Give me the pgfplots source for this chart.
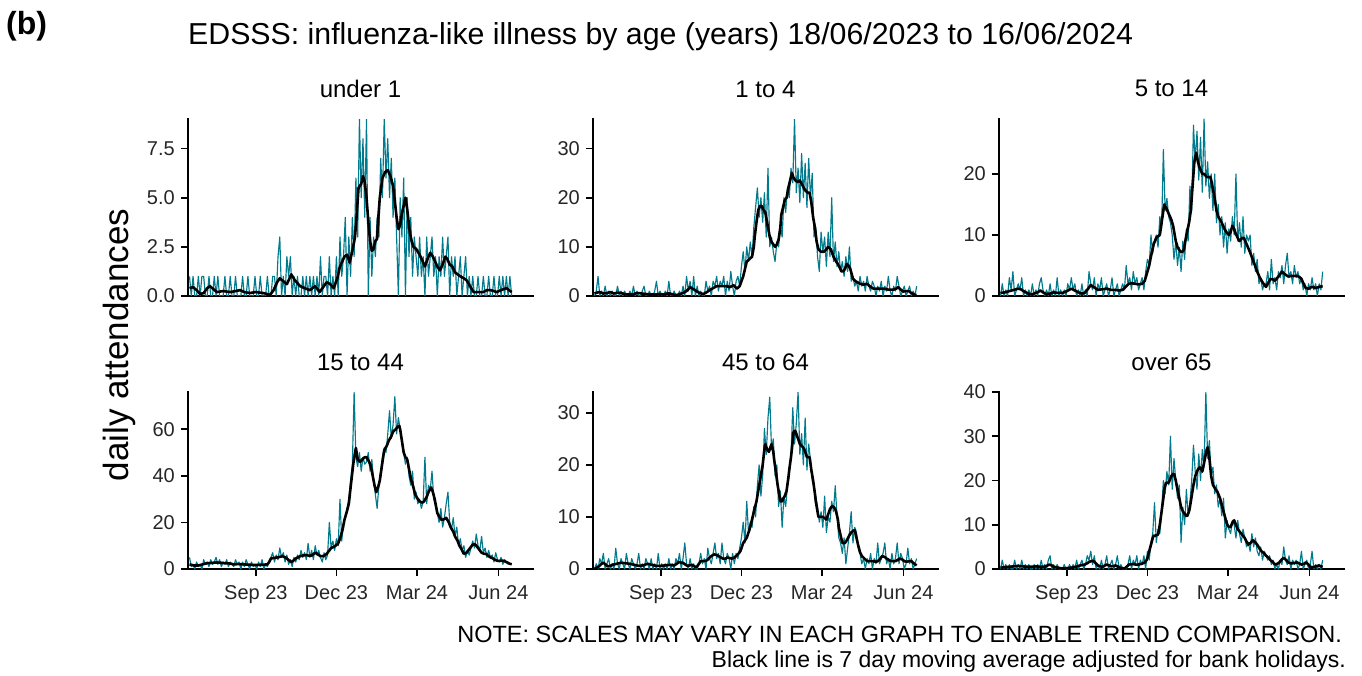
\documentclass[border=0pt]{standalone}
\usepackage{fontspec}
\setmainfont{Liberation Sans}
\usepackage{pgfplots}
\usepackage{pgfplotstable}
\pgfplotsset{compat=1.18}
\definecolor{tealc}{RGB}{0,122,140}

\pgfplotstableread[row sep=\\,header=false]{
1\\0\\1\\0\\0\\1\\0\\1\\1\\0\\
0\\1\\0\\0\\1\\0\\1\\0\\0\\0\\
1\\0\\0\\1\\0\\0\\1\\0\\0\\0\\
1\\0\\0\\1\\0\\0\\0\\1\\0\\0\\
1\\0\\0\\0\\1\\0\\
0\\1\\1\\0\\2\\3\\0\\1\\0\\2\\
1\\2\\0\\1\\0\\1\\0\\0\\1\\0\\
1\\0\\1\\0\\1\\0\\1\\0\\2\\0\\
1\\1\\0\\2\\0\\1\\0\\
2\\0\\3\\1\\2\\4\\0\\3\\1\\4\\
2\\6\\3\\9\\5\\8\\4\\9\\0\\4\\
1\\3\\2\\4\\3\\7\\5\\9\\6\\8\\
5\\7\\4\\6\\3\\0\\5\\3\\6\\0\\
5\\2\\4\\1\\3\\2\\1\\3\\
1\\2\\0\\3\\1\\2\\3\\1\\2\\0\\
2\\1\\3\\1\\2\\3\\0\\2\\1\\2\\
0\\1\\2\\0\\1\\2\\0\\1\\0\\1\\
0\\0\\1\\0\\0\\1\\0\\0\\1\\0\\
0\\1\\0\\0\\1\\0\\1\\0\\1\\0\\
1\\0\\
}\tA

\pgfplotstableread[row sep=\\,header=false]{
0\\1\\4\\0\\1\\0\\2\\0\\1\\0\\
1\\0\\0\\2\\0\\1\\0\\1\\0\\0\\
1\\0\\2\\0\\1\\0\\0\\1\\2\\0\\
0\\1\\0\\0\\1\\3\\0\\1\\0\\0\\
1\\0\\3\\0\\0\\1\\0\\0\\1\\0\\
2\\0\\4\\1\\3\\0\\4\\0\\2\\0\\
1\\0\\0\\3\\1\\2\\0\\3\\2\\4\\
1\\3\\2\\4\\0\\3\\1\\5\\2\\0\\
3\\4\\2\\6\\9\\5\\10\\7\\11\\8\\
14\\18\\22\\16\\20\\15\\21\\12\\26\\10\\
12\\9\\7\\11\\10\\14\\12\\20\\17\\22\\
20\\26\\23\\36\\21\\26\\19\\29\\20\\27\\
18\\28\\20\\25\\12\\14\\8\\5\\13\\9\\
12\\6\\13\\8\\20\\7\\11\\6\\9\\5\\
7\\4\\8\\5\\10\\3\\4\\2\\3\\1\\
4\\2\\3\\1\\4\\2\\1\\3\\2\\0\\
2\\1\\3\\0\\2\\1\\4\\1\\0\\2\\
1\\4\\2\\0\\1\\2\\0\\1\\2\\0\\
1\\0\\2\\
}\tB

\pgfplotstableread[row sep=\\,header=false]{
0\\2\\0\\1\\0\\3\\1\\4\\0\\1\\
2\\1\\3\\0\\1\\0\\1\\0\\2\\0\\
1\\0\\2\\3\\1\\0\\1\\0\\2\\0\\
1\\0\\3\\0\\1\\0\\1\\0\\2\\1\\
3\\1\\2\\0\\1\\0\\2\\0\\1\\0\\
4\\2\\1\\3\\0\\2\\1\\3\\0\\1\\
2\\0\\1\\3\\0\\1\\2\\0\\1\\2\\
1\\5\\2\\3\\1\\4\\2\\3\\1\\2\\
3\\1\\4\\6\\5\\10\\7\\9\\10\\8\\
13\\11\\24\\14\\16\\13\\12\\10\\6\\9\\
5\\8\\4\\9\\6\\11\\9\\18\\14\\28\\
22\\27\\19\\26\\17\\29\\18\\22\\16\\20\\
14\\20\\12\\15\\10\\13\\8\\12\\7\\11\\
9\\13\\10\\20\\9\\12\\8\\13\\7\\10\\
9\\10\\5\\7\\4\\6\\2\\3\\1\\2\\
2\\4\\1\\6\\2\\3\\1\\4\\3\\5\\
2\\5\\7\\3\\4\\2\\5\\3\\4\\2\\
3\\1\\2\\0\\2\\1\\3\\1\\2\\0\\
2\\1\\4\\
}\tC

\pgfplotstableread[row sep=\\,header=false]{
5\\1\\2\\0\\3\\1\\2\\0\\4\\2\\
3\\1\\4\\2\\3\\5\\2\\4\\1\\3\\
2\\4\\1\\3\\2\\1\\4\\2\\3\\0\\
3\\1\\4\\2\\0\\3\\1\\2\\0\\3\\
1\\4\\0\\2\\1\\3\\5\\7\\3\\6\\
4\\9\\5\\7\\3\\6\\2\\4\\1\\5\\
3\\6\\4\\8\\5\\7\\4\\11\\5\\8\\
4\\10\\6\\8\\5\\3\\7\\4\\6\\20\\
9\\12\\8\\13\\10\\30\\12\\20\\22\\26\\
30\\38\\45\\76\\48\\44\\50\\42\\48\\45\\
46\\50\\42\\47\\38\\32\\26\\36\\42\\48\\
52\\50\\58\\68\\56\\62\\74\\58\\65\\60\\
55\\50\\45\\48\\40\\36\\42\\30\\33\\28\\
30\\26\\29\\48\\28\\36\\34\\42\\30\\27\\
24\\20\\26\\18\\22\\28\\33\\20\\17\\22\\
14\\18\\10\\13\\8\\10\\5\\8\\6\\9\\
12\\9\\15\\10\\8\\14\\7\\9\\5\\8\\
5\\6\\3\\7\\4\\3\\5\\2\\4\\3\\
3\\2\\2\\
}\tD

\pgfplotstableread[row sep=\\,header=false]{
0\\1\\0\\2\\1\\3\\0\\1\\2\\0\\
1\\0\\4\\1\\0\\2\\1\\0\\3\\1\\
0\\2\\1\\0\\1\\3\\0\\1\\0\\2\\
1\\0\\2\\0\\1\\0\\3\\0\\1\\0\\
1\\0\\2\\0\\1\\0\\2\\1\\3\\0\\
2\\5\\1\\0\\2\\0\\1\\0\\0\\1\\
3\\1\\2\\0\\4\\2\\1\\3\\5\\2\\
3\\1\\5\\2\\1\\3\\2\\0\\3\\1\\
3\\2\\4\\6\\9\\5\\13\\7\\9\\8\\
12\\10\\16\\20\\14\\18\\27\\22\\29\\33\\
23\\25\\18\\20\\12\\15\\8\\14\\12\\16\\
18\\22\\31\\24\\28\\34\\22\\26\\20\\29\\
19\\24\\21\\17\\16\\14\\12\\9\\11\\8\\
14\\7\\10\\9\\13\\11\\16\\10\\6\\5\\
3\\6\\1\\4\\7\\11\\5\\8\\7\\4\\
3\\1\\2\\0\\2\\1\\3\\0\\2\\1\\
5\\1\\2\\3\\5\\1\\2\\0\\3\\1\\
2\\5\\1\\3\\2\\0\\1\\4\\1\\2\\
0\\1\\2\\
}\tE

\pgfplotstableread[row sep=\\,header=false]{
0\\2\\0\\1\\0\\1\\0\\0\\2\\0\\
1\\0\\2\\0\\1\\0\\1\\0\\0\\1\\
0\\1\\0\\2\\0\\1\\0\\2\\3\\0\\
1\\0\\1\\0\\0\\0\\1\\0\\0\\1\\
0\\1\\0\\2\\0\\1\\2\\0\\1\\3\\
2\\4\\1\\3\\0\\1\\0\\2\\0\\1\\
3\\0\\1\\2\\0\\1\\3\\0\\1\\0\\
0\\0\\1\\3\\0\\2\\1\\3\\0\\2\\
1\\3\\0\\4\\2\\6\\8\\15\\6\\9\\
8\\13\\20\\17\\22\\19\\30\\18\\25\\20\\
16\\19\\6\\14\\10\\18\\12\\15\\20\\28\\
22\\18\\26\\20\\27\\23\\40\\25\\29\\21\\
23\\17\\19\\14\\16\\12\\16\\7\\11\\9\\
8\\11\\10\\7\\11\\8\\6\\9\\7\\5\\
6\\4\\8\\5\\7\\4\\3\\5\\2\\4\\
3\\2\\3\\1\\2\\0\\1\\0\\2\\1\\
5\\2\\1\\3\\0\\2\\1\\2\\0\\1\\
4\\0\\1\\2\\0\\1\\4\\0\\1\\0\\
1\\0\\2\\
}\tF

\pgfplotsset{
  panel/.style={
    scale only axis, width=345pt, height=177pt,
    xmin=-1.7, xmax=388.1, ymin=0,
    axis lines=left, axis line style={-, line width=1.7pt, black, line cap=rect},
    tick align=outside, major tick length=7pt,
    tick style={line width=1.7pt, black},
    xtick={75,166,257,349},
    xticklabels={Sep 23,Dec 23,Mar 24,Jun 24},
    ticklabel style={font=\fontsize{20}{24}\selectfont, text=black!85, inner sep=0pt},
    yticklabel shift=6pt, xticklabel shift=9pt,
    title style={at={(0.5,1)}, anchor=base, yshift=16pt, font=\fontsize{24}{28}\selectfont, inner sep=0pt},
  },
  toprow/.style={xtick=\empty},
  tl/.style={tealc, line width=1.15pt, line join=round},
  ma/.style={black, line width=2.6pt, line join=round},
}

\begin{document}
\begin{tikzpicture}
\useasboundingbox (0,0) rectangle (1362pt,675pt);

\node[anchor=base west, inner sep=0pt, font=\bfseries\fontsize{32}{38}\selectfont] at (6pt,640pt) {(b)};
\node[anchor=base west, inner sep=0pt, font=\fontsize{30.3}{36}\selectfont] at (188pt,630pt) {EDSSS: influenza-like illness by age (years) 18/06/2023 to 16/06/2024};
\node[anchor=base, rotate=90, inner sep=0pt, font=\fontsize{35}{40}\selectfont] at (128pt,330pt) {daily attendances};
\node[anchor=base east, inner sep=0pt, font=\fontsize{23.5}{28}\selectfont] at (1342pt,33pt) {NOTE: SCALES MAY VARY IN EACH GRAPH TO ENABLE TREND COMPARISON.};
\node[anchor=base east, inner sep=0pt, font=\fontsize{23}{28}\selectfont] at (1346pt,8pt) {Black line is 7 day moving average adjusted for bank holidays.};

% under 1
\begin{axis}[panel, toprow, at={(188pt,379pt)}, anchor=south west, ymax=9,
  ytick={0,2.5,5,7.5}, yticklabels={0.0,2.5,5.0,7.5}, title={under 1}]
\addplot[tl] table[x expr=\coordindex*2, y index=0] {\tA};
\addplot[ma] coordinates {(0,0.4)(4,0.45)(8,0.3)(12,0.1)(16,0.15)(20,0.4)(23,0.5)(27,0.35)(31,0.2)(38,0.25)(46,0.2)(52,0.25)(57,0.3)(62,0.2)(68,0.15)(75,0.2)(83,0.15)(88,0.1)(91,0.05)(95,0.3)(99,0.7)(102,0.9)(106,0.75)(110,0.6)(113,0.9)(115,1.1)(119,0.8)(125,0.5)(130,0.4)(136,0.3)(142,0.5)(147,0.2)(151,0.45)(155,0.7)(159,0.6)(163,0.4)(167,0.9)(170,1.5)(175,2.0)(178,2.1)(181,1.7)(184,2.3)(187,3.0)(189,4.2)(191,5.5)(194,5.7)(196,6.1)(198,5.8)(200,5.0)(202,3.8)(204,2.8)(206,2.3)(208,2.4)(210,2.8)(212,2.9)(213,3.8)(215,5.0)(218,6.0)(221,6.3)(224,6.4)(227,6.1)(230,5.6)(232,4.8)(234,4.0)(236,3.4)(238,3.6)(240,4.2)(242,4.6)(244,5.0)(246,4.4)(249,3.2)(251,2.8)(253,2.5)(256,2.4)(260,2.1)(263,1.8)(266,1.5)(269,1.9)(272,2.2)(275,2.0)(277,1.8)(280,1.5)(283,1.3)(286,1.6)(289,2.0)(291,1.9)(294,1.6)(297,1.5)(300,1.2)(303,1.1)(306,1.0)(310,0.9)(313,0.8)(317,0.5)(321,0.2)(326,0.2)(332,0.2)(336,0.3)(340,0.3)(344,0.25)(347,0.2)(352,0.3)(358,0.4)(361,0.3)(364,0.2)};
\end{axis}

% 1 to 4
\begin{axis}[panel, toprow, at={(593pt,379pt)}, anchor=south west, ymax=36,
  ytick={0,10,20,30}, yticklabels={0,10,20,30}, title={1 to 4}]
\addplot[tl] table[x expr=\coordindex*2, y index=0] {\tB};
\addplot[ma] coordinates {(0,0.5)(3,0.7)(6,0.8)(10,0.5)(14,0.6)(18,0.8)(22,0.5)(26,0.7)(30,0.6)(34,0.4)(38,0.3)(42,0.3)(46,0.5)(50,0.6)(54,0.5)(58,0.4)(62,0.3)(66,0.3)(70,0.3)(74,0.4)(78,0.3)(82,0.5)(85,0.5)(89,0.3)(93,0.2)(97,0.4)(101,0.7)(104,1.0)(108,1.8)(111,1.5)(115,1.0)(119,0.6)(123,0.4)(127,0.8)(130,1.2)(134,1.6)(138,2.0)(143,2.0)(149,2.0)(153,1.8)(157,2.2)(161,1.5)(164,2.0)(166,3.0)(168,4.0)(170,5.5)(172,7.0)(175,7.5)(178,8.0)(180,10)(181,12)(183,15)(185,17.5)(187,18.3)(189,18.3)(191,17.5)(193,17)(195,15)(196,14)(198,12)(200,11)(202,10.5)(204,10)(206,10.5)(208,11.5)(210,14)(211,16.5)(213,18)(215,19.5)(217,20)(219,22)(221,23.5)(223,25)(225,24)(227,23.5)(230,23.2)(232,23.5)(235,22.5)(238,21.5)(241,21)(243,21)(245,19)(247,16)(249,14)(251,11)(253,9.5)(256,9)(259,9.0)(262,9.5)(264,10)(267,9.5)(270,8)(273,7)(275,6.5)(277,5.8)(279,5)(281,5)(283,5.5)(285,6.5)(287,6.2)(289,5.5)(292,3.5)(295,3.0)(300,2.5)(304,2.3)(308,2.5)(311,2.0)(315,1.5)(320,1.5)(326,1.5)(332,1.3)(338,1.3)(341,1.5)(343,1.8)(346,1.3)(349,0.9)(352,1.0)(355,1.0)(358,0.6)(362,0.2)(364,0.2)};
\end{axis}

% 5 to 14
\begin{axis}[panel, toprow, at={(999pt,379pt)}, anchor=south west, ymax=29,
  ytick={0,10,20}, yticklabels={0,10,20}, title={5 to 14}]
\addplot[tl] table[x expr=\coordindex*2, y index=0] {\tC};
\addplot[ma] coordinates {(0,0.5)(5,0.6)(10,0.8)(15,1.0)(20,1.2)(23,1.1)(26,0.8)(30,0.5)(33,0.3)(36,0.3)(40,0.5)(43,0.7)(45,0.9)(48,0.6)(52,0.3)(56,0.4)(60,0.6)(65,0.5)(70,0.5)(75,0.8)(80,1.2)(84,0.9)(88,0.6)(92,0.4)(95,0.5)(99,1.2)(102,1.8)(106,1.4)(110,1.0)(115,1.1)(120,1.2)(125,1.0)(130,1.0)(134,0.9)(138,1.0)(142,1.6)(145,2.0)(148,2.1)(152,2.0)(156,1.9)(160,2.0)(163,2.5)(165,3.5)(168,5.0)(170,6.5)(173,8.5)(176,9.5)(178,9.8)(180,10)(182,12)(184,14)(185,15)(187,14.5)(190,13.5)(193,12.5)(195,11.5)(198,9)(200,8)(203,7.3)(205,7.2)(207,7.5)(210,10)(213,12)(215,14)(217,18)(219,22)(221,23.5)(223,22)(225,21)(228,20)(230,20)(233,19.5)(235,19.5)(237,19.5)(238,19)(240,17.5)(242,16)(244,14)(246,13)(248,12.5)(250,12)(253,11)(255,10.5)(258,10)(260,10.5)(262,11.5)(264,11)(265,10.5)(268,9.5)(270,9)(273,9.5)(275,9.5)(278,8.5)(281,7.5)(285,6)(288,4.8)(290,4)(293,3.0)(295,2.5)(298,1.8)(300,1.5)(303,2.3)(305,2.8)(308,2.7)(310,2.5)(314,3.2)(318,4.0)(321,3.6)(325,3.2)(330,3.3)(335,3.3)(338,3.1)(340,2.8)(343,1.8)(345,1.3)(348,1.2)(352,1.5)(356,1.3)(360,1.5)(364,1.6)};
\end{axis}

% 15 to 44
\begin{axis}[panel, at={(188pt,106pt)}, anchor=south west, ymax=76,
  ytick={0,20,40,60}, yticklabels={0,20,40,60}, title={15 to 44}]
\addplot[tl] table[x expr=\coordindex*2, y index=0] {\tD};
\addplot[ma] coordinates {(0,2.0)(5,1.5)(10,1.5)(15,2)(20,2.5)(25,2.6)(30,2.8)(35,2.7)(40,2.5)(45,2.4)(50,2.0)(55,2.1)(60,2.0)(65,1.9)(70,1.8)(75,1.7)(80,1.8)(85,1.9)(88,2.0)(90,3.0)(92,4.5)(96,4.8)(100,5.0)(105,5.5)(108,5.0)(110,4.5)(113,3.5)(115,3.0)(118,3.8)(120,4.5)(125,5.5)(128,5.8)(132,6.0)(135,5.7)(138,5.8)(142,7.0)(145,6.3)(148,5.5)(152,5.6)(155,6.5)(158,8)(160,9)(163,9.5)(165,10)(168,11)(170,13)(173,17)(175,21)(178,25)(180,28)(182,35)(185,45)(187,50)(188,52)(190,47)(193,46)(195,47)(198,48)(200,48)(203,46)(205,44)(207,40)(209,36)(211,33)(213,35)(215,38)(218,46)(220,51)(223,53)(225,55)(228,57)(230,59)(233,60)(235,61)(237,61.5)(238,60)(240,55)(242,50)(244,48)(246,47)(248,43)(250,39)(253,35)(255,32)(258,30)(260,29)(263,28.5)(265,29)(268,31)(270,33)(273,35)(275,33)(277,30)(279,26)(280,24)(283,22)(285,21)(288,21.5)(290,22)(293,20)(295,18)(298,16)(300,14)(303,12)(305,10)(308,8)(310,6.5)(313,7)(315,8)(318,9.5)(320,10.5)(323,10.5)(325,9.5)(328,8)(330,7)(333,6.5)(335,6.5)(338,5.5)(340,5)(343,4.5)(345,4)(348,3.5)(350,3.5)(353,3.6)(355,3.5)(358,3.0)(360,2.5)(364,2)};
\end{axis}

% 45 to 64
\begin{axis}[panel, at={(593pt,106pt)}, anchor=south west, ymax=34,
  ytick={0,10,20,30}, yticklabels={0,10,20,30}, title={45 to 64}]
\addplot[tl] table[x expr=\coordindex*2, y index=0] {\tE};
\addplot[ma] coordinates {(0,0)(3,0.3)(5,0.5)(8,1.0)(10,1.2)(13,0.8)(15,0.5)(18,0.6)(20,0.8)(25,1.0)(30,1.2)(35,1.1)(40,1.0)(45,0.8)(50,0.6)(55,0.7)(60,1.0)(65,0.8)(70,0.6)(75,0.6)(80,0.7)(85,0.8)(90,0.7)(93,1.0)(95,1.3)(100,1.2)(103,0.8)(105,0.6)(110,0.8)(113,0.5)(115,0.3)(118,1.0)(120,1.5)(125,1.5)(128,1.8)(130,2.2)(133,2.6)(135,2.8)(138,2.7)(140,2.5)(143,2.2)(145,2.0)(148,2.0)(150,2.2)(153,2.1)(155,2.0)(158,2.2)(160,2.5)(163,3.0)(165,3.5)(168,5)(170,5.5)(172,6.0)(175,7.5)(178,9.5)(180,11)(183,13)(185,15)(188,18)(190,20)(192,23)(193,24)(195,23)(197,22.5)(199,23.5)(200,24)(202,22.5)(203,21)(205,18.5)(207,16)(209,14)(210,13)(212,13)(213,13.5)(215,14)(217,15)(219,17.5)(220,19)(222,21.5)(223,23)(225,26.5)(227,26.5)(228,26)(230,25)(232,24)(235,23.5)(237,23)(239,22)(240,21.5)(243,21.5)(245,19)(247,17)(249,14.5)(250,13)(252,11)(253,10)(256,10)(258,10)(260,9.8)(262,9.5)(264,10.5)(266,11.5)(268,12)(270,12)(272,11.5)(273,11)(275,9.5)(276,8)(278,6.5)(280,5)(283,5)(285,5.5)(288,6.5)(290,7)(292,7.3)(294,7.5)(296,6)(298,4.5)(300,3.2)(302,2.5)(305,2.0)(308,1.5)(312,1.5)(315,1.5)(318,1.4)(320,1.5)(323,2.0)(325,2.5)(328,2.3)(330,2)(333,1.7)(335,1.5)(338,1.5)(340,1.5)(343,1.8)(345,2.0)(348,1.8)(350,1.5)(353,1.4)(355,1.5)(358,1.5)(360,1.2)(362,0.9)(364,0.7)};
\end{axis}

% over 65
\begin{axis}[panel, at={(999pt,106pt)}, anchor=south west, ymax=40,
  ytick={0,10,20,30,40}, yticklabels={0,10,20,30,40}, title={over 65}]
\addplot[tl] table[x expr=\coordindex*2, y index=0] {\tF};
\addplot[ma] coordinates {(0,0.3)(5,0.4)(10,0.5)(15,0.6)(20,0.7)(25,0.6)(30,0.5)(35,0.5)(40,0.6)(45,0.5)(50,0.5)(53,0.8)(55,1.0)(58,0.8)(60,0.5)(65,0.3)(70,0.1)(75,0.2)(80,0.3)(85,0.5)(90,0.8)(95,1.0)(98,1.3)(100,1.6)(103,1.8)(105,1.8)(108,1.2)(110,0.8)(113,0.6)(115,0.5)(118,0.8)(120,1.0)(123,0.8)(125,0.6)(128,0.7)(130,0.8)(133,0.5)(135,0.3)(138,0.2)(140,0.1)(143,0.6)(145,1.0)(148,1.1)(150,1.1)(153,1.0)(155,1.0)(158,1.1)(160,1.2)(163,1.5)(165,2.0)(166,2.5)(168,4.0)(170,5.5)(172,7)(173,7.5)(176,7.6)(178,7.8)(180,10)(182,13)(184,16)(185,18)(187,19.5)(188,19.5)(190,19.5)(192,20.5)(193,21)(195,21.5)(196,21.5)(198,20)(200,18)(202,16)(204,14)(206,13)(208,12.5)(210,12)(211,12)(213,13)(214,14)(216,16.5)(218,19)(220,21)(221,21.5)(223,22.5)(225,23)(227,22.5)(228,22)(230,24)(231,25)(233,27)(234,27.5)(235,26.5)(236,25)(238,21)(240,19)(243,18)(245,17.5)(248,16)(250,14.5)(252,13)(254,11.5)(256,10)(258,9.5)(260,9.5)(262,10.5)(264,11)(266,10)(268,9)(270,8.5)(272,8)(274,7.5)(276,7)(278,6.2)(280,5.5)(283,6)(285,6.5)(288,6)(290,5.5)(293,4.5)(295,4)(298,3.5)(300,3)(303,2.5)(305,2)(308,1.5)(310,1)(313,1.2)(315,1.5)(318,2.2)(320,2.5)(323,2)(325,1.5)(328,1.3)(330,1.3)(333,1.4)(335,1.5)(338,1.2)(340,1.0)(343,1.2)(345,1.5)(348,1.0)(350,0.5)(353,0.4)(355,0.5)(358,0.7)(360,0.8)(362,0.6)(364,0.5)};
\end{axis}
\end{tikzpicture}
\end{document}
